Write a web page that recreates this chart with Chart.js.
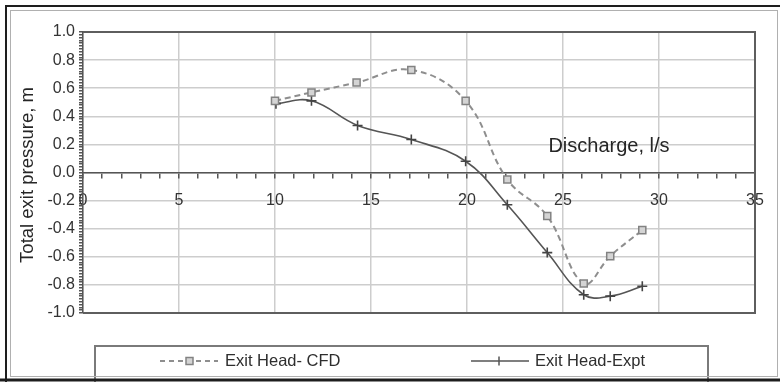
<!DOCTYPE html>
<html><head><meta charset="utf-8">
<script src="https://cdn.jsdelivr.net/npm/chart.js"></script>
<style>html,body{margin:0;padding:0;background:#fff;}#wrap{width:780px;height:382px;position:relative;}</style>
</head><body><div id="wrap"><canvas id="c" width="780" height="382"></canvas></div>
<script>
// ---- data ----
const cfdX  = [10, 11.9, 14.25, 17.1, 19.93, 22.1, 24.18, 26.08, 27.46, 29.13];
const cfdY  = [0.51, 0.57, 0.64, 0.73, 0.51, -0.05, -0.31, -0.79, -0.595, -0.41];
const exptX = [10.05, 11.9, 14.3, 17.1, 19.93, 22.1, 24.18, 26.08, 27.46, 29.13];
const exptY = [0.49, 0.51, 0.335, 0.235, 0.08, -0.23, -0.57, -0.87, -0.88, -0.81];
const seriesNames = ['Exit Head- CFD', 'Exit Head-Expt'];
const xTickLabels = ['0', '5', '10', '15', '20', '25', '30', '35'];
const yTickLabels = ['-1.0', '-0.8', '-0.6', '-0.4', '-0.2', '0.0', '0.2', '0.4', '0.6', '0.8', '1.0'];
const xAxisTitle = 'Discharge, l/s';
const yAxisTitle = 'Total exit pressure, m';

const FONT = '"Liberation Sans", Arial, sans-serif';
const isMajorX = v => Math.abs(v / 5 - Math.round(v / 5)) < 1e-6;
const isMajorY = v => Math.abs(v * 5 - Math.round(v * 5)) < 1e-6;

const decor = {
  id: 'decor',
  beforeDatasetsDraw(chart) {
    const {ctx, chartArea: a} = chart;
    ctx.save();
    ctx.strokeStyle = '#5e5e5e';
    ctx.lineWidth = 2;
    ctx.beginPath();
    ctx.moveTo(a.left, a.top); ctx.lineTo(a.right, a.top);
    ctx.lineTo(a.right, a.bottom); ctx.lineTo(a.left, a.bottom);
    ctx.stroke();
    ctx.restore();
  },
  afterDraw(chart) {
    const {ctx, chartArea: a} = chart;
    ctx.save();
    // axis titles
    ctx.fillStyle = '#262626';
    ctx.font = '20px ' + FONT;
    ctx.textAlign = 'center'; ctx.textBaseline = 'middle';
    ctx.fillText(xAxisTitle, 609, 146);
    ctx.save();
    ctx.translate(28, 175); ctx.rotate(-Math.PI / 2);
    ctx.font = '18.5px ' + FONT;
    ctx.fillText(yAxisTitle, 0, 0);
    ctx.restore();

    // legend box
    ctx.strokeStyle = '#7a7a7a'; ctx.lineWidth = 2;
    ctx.strokeRect(95, 346, 613, 40);
    const ly = 361;
    const d0 = chart.data.datasets[0], d1 = chart.data.datasets[1];
    // item 1
    ctx.strokeStyle = d0.borderColor; ctx.lineWidth = 2; ctx.setLineDash([5, 4]);
    ctx.beginPath(); ctx.moveTo(160, ly); ctx.lineTo(218, ly); ctx.stroke();
    ctx.setLineDash([]);
    ctx.fillStyle = d0.pointBackgroundColor; ctx.strokeStyle = d0.pointBorderColor; ctx.lineWidth = 1.5;
    ctx.fillRect(186, ly - 3.5, 7, 7); ctx.strokeRect(186, ly - 3.5, 7, 7);
    // item 2
    ctx.strokeStyle = d1.borderColor; ctx.lineWidth = 1.5;
    ctx.beginPath(); ctx.moveTo(471, ly); ctx.lineTo(529, ly);
    ctx.moveTo(499, ly - 4.5); ctx.lineTo(499, ly + 4.5); ctx.stroke();
    ctx.fillStyle = '#2e2e2e'; ctx.font = '16.5px ' + FONT;
    ctx.textAlign = 'left';
    ctx.fillText(d0.label, 225, ly);
    ctx.fillText(d1.label, 535, ly);

    // outer frame
    ctx.strokeStyle = '#b0b0b0'; ctx.lineWidth = 1;
    ctx.strokeRect(10.5, 10.5, 767, 366);
    ctx.strokeStyle = '#1e1e1e'; ctx.lineWidth = 2;
    ctx.beginPath();
    ctx.moveTo(6, 382); ctx.lineTo(6, 6); ctx.lineTo(780, 6);
    ctx.stroke();
    ctx.lineWidth = 3;
    ctx.beginPath(); ctx.moveTo(0, 380); ctx.lineTo(780, 380); ctx.stroke();
    ctx.restore();
  }
};

new Chart(document.getElementById('c'), {
  type: 'scatter',
  data: {
    datasets: [
      {
        label: seriesNames[0],
        data: cfdX.map((x, i) => ({x, y: cfdY[i]})),
        showLine: true, tension: 0.4,
        borderColor: '#8e8e8e', borderWidth: 2, borderDash: [6, 4],
        pointStyle: 'rect', pointRadius: 5,
        pointBackgroundColor: '#d4d4d4', pointBorderColor: '#828282', pointBorderWidth: 1.5
      },
      {
        label: seriesNames[1],
        data: exptX.map((x, i) => ({x, y: exptY[i]})),
        showLine: true, tension: 0.4,
        borderColor: '#555555', borderWidth: 1.6,
        pointStyle: 'cross', pointRadius: 5,
        pointBorderColor: '#444444', pointBorderWidth: 1.6
      }
    ]
  },
  options: {
    responsive: false, animation: false, devicePixelRatio: 1,
    layout: {padding: {left: 0, top: 32, right: 25, bottom: 69}},
    plugins: {legend: {display: false}, tooltip: {enabled: false}},
    scales: {
      x: {
        type: 'linear', min: 0, max: 35,
        position: {y: 0},
        border: {color: '#555555', width: 1.5},
        grid: {
          color: c => isMajorX(c.tick.value) ? '#cdcdcd' : 'rgba(0,0,0,0)',
          lineWidth: 1.5, tickColor: '#555555', tickLength: 5, drawTicks: true
        },
        ticks: {
          stepSize: 1, autoSkip: false, maxRotation: 0, padding: 13,
          color: '#333333', font: {family: FONT, size: 16},
          callback: v => isMajorX(v) ? xTickLabels[Math.round(v / 5)] : ''
        }
      },
      y: {
        type: 'linear', min: -1, max: 1,
        border: {color: '#555555', width: 1.5},
        afterFit(s) { s.width = 83; },
        grid: {
          color: c => isMajorY(c.tick.value) ? '#cdcdcd' : 'rgba(0,0,0,0)',
          lineWidth: 1.5, tickColor: '#555555', tickLength: 4, drawTicks: true
        },
        ticks: {
          stepSize: 0.02, autoSkip: false, maxTicksLimit: 200, padding: 4,
          color: '#333333', font: {family: FONT, size: 16},
          callback: v => isMajorY(v) ? yTickLabels[Math.round((v + 1) * 5)] : ''
        }
      }
    }
  },
  plugins: [decor]
});
</script>
</body></html>
